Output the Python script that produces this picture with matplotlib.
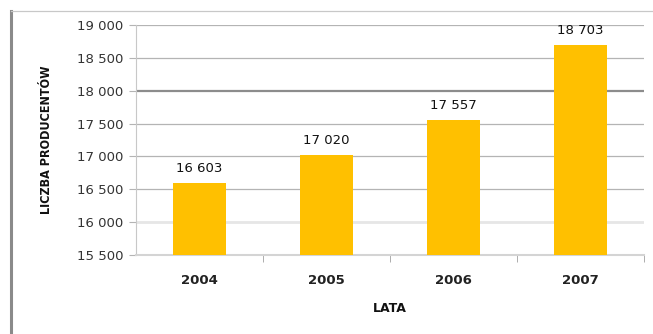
import matplotlib
matplotlib.use("Agg")
import matplotlib.pyplot as plt
from matplotlib.lines import Line2D
from matplotlib.ticker import FuncFormatter

years = ["2004", "2005", "2006", "2007"]
producers = [16603, 17020, 17557, 18703]
y_ticks = [15500, 16000, 16500, 17000, 17500, 18000, 18500, 19000]


def fmt_thousands(v, pos=None):
    return f"{int(round(v)):,}".replace(",", " ")


plt.rcParams["font.family"] = ["DejaVu Sans"]

fig = plt.figure(figsize=(6.53, 3.34), dpi=100)
fig.patch.set_facecolor("white")
ax = fig.add_axes([136 / 653, 1 - 255 / 334, 508 / 653, 230 / 334])
ax.set_facecolor("white")

x = list(range(len(years)))
heights = [v - y_ticks[0] for v in producers]
ax.bar(x, heights, width=0.42, bottom=y_ticks[0], color="#FFC000", zorder=3)

ax.set_xlim(-0.5, len(years) - 0.5)
ax.set_ylim(y_ticks[0], y_ticks[-1])

# horizontal gridlines
for t in y_ticks[1:]:
    if t == 18000:
        ax.axhline(t, color="#8c8c8c", lw=1.6, zorder=1)
    elif t == 16000:
        ax.axhline(t, color="#e6e6e6", lw=2.0, zorder=1)
    else:
        ax.axhline(t, color="#b4b4b4", lw=0.9, zorder=1)

for s in ["top", "right"]:
    ax.spines[s].set_visible(False)
ax.spines["left"].set_color("#c8c8c8")
ax.spines["left"].set_linewidth(0.8)
ax.spines["bottom"].set_color("#d4d4d4")
ax.spines["bottom"].set_linewidth(1.5)

ax.set_yticks(y_ticks)
ax.yaxis.set_major_formatter(FuncFormatter(fmt_thousands))
ax.tick_params(axis="y", length=5, color="#b4b4b4", labelsize=9.5,
               labelcolor="#333333", pad=4)

ax.set_xticks(x)
ax.set_xticklabels(years, fontsize=9.5, fontweight="bold", color="#222222")
ax.tick_params(axis="x", length=0, pad=14)
ax.set_xticks([i + 0.5 for i in x], minor=True)
ax.tick_params(axis="x", which="minor", length=5, color="#a0a0a0",
               direction="out")

for xi, v in zip(x, producers):
    ax.text(xi, v + 120, fmt_thousands(v), ha="center", va="bottom",
            fontsize=9.5, color="#111111", zorder=4)

fig.text(47 / 653, 1 - 140 / 334, "LICZBA PRODUCENTÓW", rotation=90,
         ha="center", va="center", fontsize=9, fontstretch="condensed",
         fontweight="bold", color="#111111")

fig.text(390 / 653, 1 - 309 / 334, "LATA", ha="center", va="center",
         fontsize=9, fontweight="bold", color="#111111")

# frame lines around the chart
fig.add_artist(Line2D([11 / 653, 11 / 653], [0, 1 - 11 / 334],
                      transform=fig.transFigure, color="#8a8a8a", lw=2.2))
fig.add_artist(Line2D([11 / 653, 1], [1 - 11 / 334, 1 - 11 / 334],
                      transform=fig.transFigure, color="#c8c8c8", lw=0.9))

fig.savefig("out.png", dpi=100)
